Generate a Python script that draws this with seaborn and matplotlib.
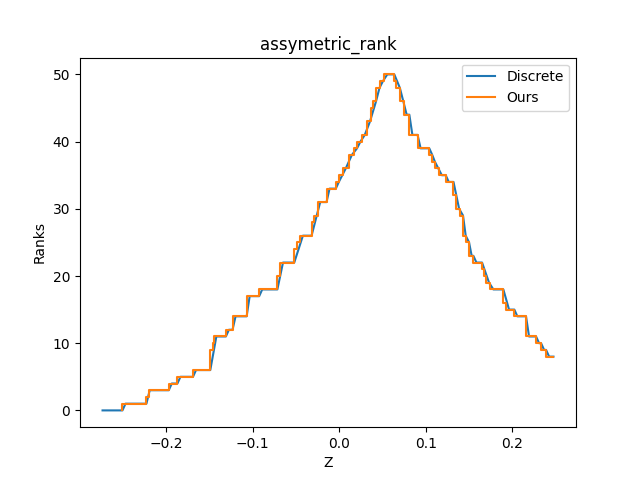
import matplotlib
matplotlib.use("Agg")
import matplotlib.pyplot as plt
import seaborn as sns
import pandas as pd

# "Ours" : step function (z where rank changes, new rank)
ours_z = [-0.2505, -0.2505, -0.2228, -0.2200, -0.1970, -0.1870, -0.1690, -0.1490,
          -0.1460, -0.1445, -0.1310, -0.1233, -0.1070, -0.0925, -0.0715, -0.0680,
          -0.0520, -0.0485, -0.0450, -0.0320, -0.0290, -0.0250, -0.0147, -0.0040,
          0.0000, 0.0040, 0.0110, 0.0170, 0.0210, 0.0260, 0.0320, 0.0366,
          0.0390, 0.0430, 0.0470, 0.0520, 0.0636, 0.0660, 0.0705, 0.0744,
          0.0810, 0.0905, 0.1040, 0.1070, 0.1110, 0.1150, 0.1230, 0.1320,
          0.1350, 0.1395, 0.1426, 0.1465, 0.1495, 0.1550, 0.1650, 0.1676,
          0.1696, 0.1746, 0.1896, 0.1927, 0.2023, 0.2158, 0.2274, 0.2332,
          0.2390, 0.2475]
ours_rank = [0, 1, 2, 3, 4, 5, 6, 9,
             10, 11, 12, 14, 17, 18, 20, 22,
             24, 25, 26, 28, 29, 31, 33, 34,
             35, 36, 38, 39, 40, 41, 43, 45,
             46, 48, 49, 50, 49, 48, 46, 44,
             41, 39, 38, 37, 36, 35, 34, 32,
             30, 29, 26, 25, 23, 22, 21, 20,
             19, 18, 16, 15, 14, 11, 10, 9,
             8, 8]

# "Discrete" : linearly connected samples
disc_z = [-0.2735, -0.2505, -0.2470, -0.2228, -0.2190, -0.1970, -0.1935, -0.1870,
          -0.1835, -0.1690, -0.1655, -0.1490, -0.1420, -0.1310, -0.1275, -0.1233,
          -0.1198, -0.1070, -0.1035, -0.0925, -0.0890, -0.0715, -0.0650, -0.0520,
          -0.0420, -0.0320, -0.0220, -0.0147, -0.0112, -0.0040, -0.0005, 0.0075,
          0.0145, 0.0205, 0.0245, 0.0295, 0.0355, 0.0425, 0.0465, 0.0505,
          0.0555, 0.0636, 0.0700, 0.0740, 0.0779, 0.0810, 0.0845, 0.0905,
          0.0940, 0.1040, 0.1075, 0.1105, 0.1145, 0.1185, 0.1230, 0.1265,
          0.1320, 0.1385, 0.1430, 0.1461, 0.1500, 0.1530, 0.1550, 0.1585,
          0.1650, 0.1731, 0.1781, 0.1896, 0.1962, 0.2023, 0.2058, 0.2158,
          0.2193, 0.2274, 0.2309, 0.2332, 0.2367, 0.2390, 0.2425, 0.2475]
disc_rank = [0, 0, 1, 1, 3, 3, 4, 4,
             5, 5, 6, 6, 11, 11, 12, 12,
             14, 14, 17, 17, 18, 18, 22, 22,
             26, 26, 31, 31, 33, 33, 34, 36,
             38, 39, 40, 41, 43, 46, 48, 49,
             50, 50, 48, 46, 44, 44, 41, 41,
             39, 39, 38, 37, 36, 35, 35, 34,
             34, 30, 29, 26, 25, 23, 23, 22,
             22, 19, 18, 18, 15, 15, 14, 14,
             11, 11, 10, 10, 9, 9, 8, 8]

fig, ax = plt.subplots(figsize=(6.4, 4.8), dpi=100)
sns.lineplot(x=disc_z, y=disc_rank, estimator=None, sort=False, ax=ax,
             color="tab:blue", label="Discrete")
sns.lineplot(x=ours_z, y=ours_rank, estimator=None, sort=False, ax=ax,
             color="tab:orange", label="Ours", drawstyle="steps-post")
ax.set_title("assymetric_rank")
ax.set_xlabel("Z")
ax.set_ylabel("Ranks")
ax.legend(loc="upper right")
fig.savefig("out.png", dpi=100)
